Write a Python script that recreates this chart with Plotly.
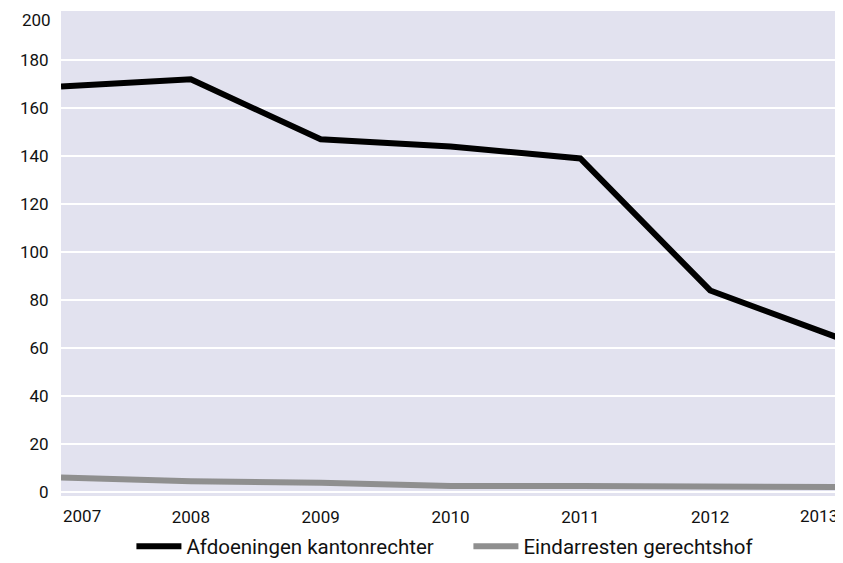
import plotly.graph_objects as go

jaren = [2007, 2008, 2009, 2010, 2011, 2012, 2013]
afdoeningen_kantonrechter = [169, 172, 147, 144, 139, 84, 64]
eindarresten_gerechtshof = [6, 4.5, 3.8, 2.5, 2.5, 2.5, 2]
y_ticks = [0, 20, 40, 60, 80, 100, 120, 140, 160, 180, 200]

FONT = "Roboto"
TEXT = "#111111"
# de pagina heeft 8px body-marge, dus figuur iets kleiner
W, H = 835, 555

fig = go.Figure()
fig.add_trace(go.Scatter(
    x=jaren, y=afdoeningen_kantonrechter, mode="lines",
    name="Afdoeningen kantonrechter",
    line=dict(color="#000000", width=6),
))
fig.add_trace(go.Scatter(
    x=jaren, y=eindarresten_gerechtshof, mode="lines",
    name="Eindarresten gerechtshof",
    line=dict(color="#8f8f8f", width=6),
))

# eerste/laatste jaartal en bovenste waarde staan binnen de grafiek uitgelijnd
fig.add_annotation(x=jaren[0], y=0, xref="x", yref="paper", text=str(jaren[0]),
                   showarrow=False, xanchor="left", yanchor="top", yshift=-8,
                   font=dict(family=FONT, size=17, color=TEXT))
fig.add_annotation(x=jaren[-1], y=0, xref="x", yref="paper", text=str(jaren[-1]),
                   showarrow=False, xanchor="right", yanchor="top", yshift=-8,
                   font=dict(family=FONT, size=17, color=TEXT))
fig.add_annotation(x=0, y=y_ticks[-1], xref="paper", yref="y", text=str(y_ticks[-1]),
                   showarrow=False, xanchor="right", yanchor="middle",
                   xshift=-8, yshift=-8,
                   font=dict(family=FONT, size=17, color=TEXT))

fig.update_layout(
    width=W, height=H,
    margin=dict(l=53, r=3, t=3, b=67),
    paper_bgcolor="white",
    plot_bgcolor="#e2e2ef",
    font=dict(family=FONT, size=17, color=TEXT),
    showlegend=True,
    legend=dict(orientation="h", xref="paper", x=0.523, xanchor="center",
                yref="container", y=0.03, yanchor="middle",
                font=dict(family=FONT, size=20.5, color=TEXT),
                itemwidth=45, entrywidth=277, tracegroupgap=0),
)
fig.update_xaxes(
    range=[2007, 2013], tickvals=jaren[1:-1], ticktext=[str(j) for j in jaren[1:-1]],
    showgrid=False, zeroline=False, showline=False, ticks="outside", ticklen=6,
    tickcolor="rgba(0,0,0,0)", automargin=False,
)
fig.update_yaxes(
    range=[-1.7, 200.5], tickvals=y_ticks[:-1], showgrid=True, gridcolor="white",
    gridwidth=2, zeroline=False, showline=False, ticks="outside", ticklen=8,
    tickcolor="rgba(0,0,0,0)", automargin=False,
)

fig.write_html("out.html")
